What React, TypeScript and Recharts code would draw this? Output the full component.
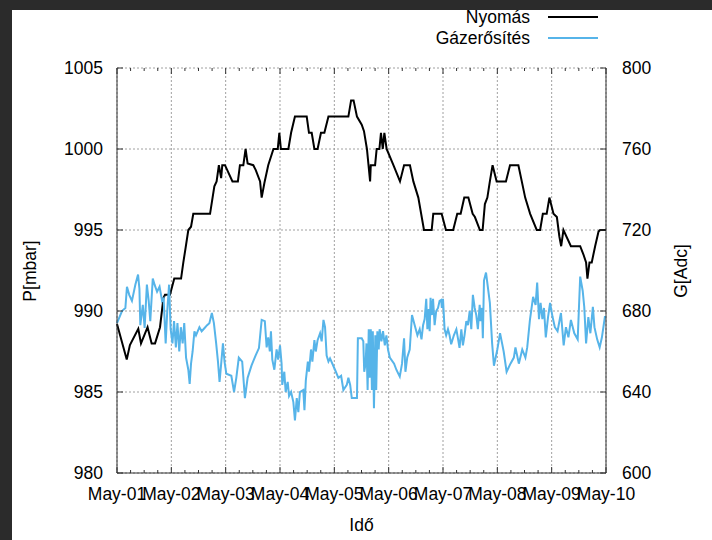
import { CartesianGrid, Label, Legend, Line, LineChart, XAxis, YAxis } from "recharts";

// hours since May-01 00:00
const pressureHours = [
  0, 4.3, 5.7, 9.4, 10.6, 13.5, 15.3, 16.8, 19, 20.5, 21.2, 23.4, 25.3, 28.3, 29.3, 30.3, 31.5, 32.7, 33.7,
  41.1, 43, 44, 45, 46, 46.5, 47.7, 51, 53.4, 54.3, 55.8, 56.8, 57.7, 60.2, 61.3, 63.2, 63.9, 65.1, 66.8,
  69.1, 71, 71.7, 72.4, 75.7, 76.9, 78.6, 83.8, 84.8, 86, 87.2, 88.6, 90.1, 91.6, 93.4, 102.2, 103.4, 104.5,
  106, 108.1, 109.1, 110.4, 111.1, 111.8, 112.1, 114, 114.7, 115.9, 116.6, 117.4, 118.1, 119.1, 122.1, 125,
  126.8, 129.4, 130.9, 133.1, 135.6, 139, 139.7, 143.4, 145.3, 148.5, 150.3, 151.8, 153.4, 155.2, 157.1,
  158.1, 160.3, 161.5, 162.5, 163.6, 164.7, 165.9, 167.7, 171.8, 173.6, 177.3, 178.8, 180.3, 182.5, 185.4,
  186.9, 188.1, 189.8, 191, 192.8, 194.3, 195.4, 196.2, 197.2, 200.5, 204.6, 206, 207.2, 207.8, 208.7,
  209.7, 211.2, 212.7, 213.4, 216,
];
const pressureMbar = [
  989.2, 987, 987.9, 988.9, 988, 989, 988, 988, 989, 990.8, 991, 991, 992, 992, 993, 993.9, 995, 995.2, 996,
  996, 997.7, 998, 999, 998.2, 999, 999, 998, 998, 999, 999, 1000, 999.1, 999, 998.7, 998, 997, 997.9, 999,
  1000, 1000, 1001, 1000, 1000, 1001, 1002, 1002, 1001, 1001, 1000, 1000, 1001, 1001, 1002, 1002, 1003, 1003,
  1002, 1001.5, 1001.1, 1000, 999, 998, 999, 999, 1000, 1000, 1001, 1000, 1001, 1000, 999, 998,
  999, 999, 998, 997, 995, 995, 996, 996, 995, 995, 996, 996, 997, 997, 996,
  995.8, 995, 995, 996.6, 997, 998, 999, 998, 998, 999, 999, 998, 997, 996, 995,
  995, 996, 996, 997, 996, 995.8, 994.6, 994, 995, 994, 994, 993.5, 993, 992, 993,
  993, 994, 994.9, 995, 995,
];

const gainHours = [
  0, 2.2, 3.7, 4.4, 5.4, 6.6, 8.1, 9.3, 9.9, 10.3, 11.4, 12.2, 13.2, 14, 14.7, 15.8, 16.6, 17.7, 18.8, 19.9,
  20.6, 21.5, 22.2, 23, 23.7, 24.5, 25.2, 26, 26.7, 27.5, 28.2, 29, 29.7, 30.5, 31.5, 32.1, 32.7, 33.4, 34.2,
  34.9, 36.4, 37.4, 38.6, 39.8, 40.8, 41.9, 42.8, 43.8, 44.6, 45.3, 46.1, 46.8, 47.5, 48.3, 50.5, 51.7, 52.7,
  53.8, 55.3, 56.5, 57.7, 59.4, 61.2, 62.7, 63.9, 65.3, 66.1, 66.8, 67.5, 68, 68.6, 69.5, 70.5, 71.2, 72,
  72.7, 73, 73.9, 74.5, 75.4, 76, 76.9, 77.9, 78.6, 79.4, 80.1, 80.8, 82.3, 82.8, 83.4, 84.3, 84.8, 85.7,
  86.3, 87.2, 87.8, 88.6, 89.7, 90.4, 91.2, 91.9, 92.6, 93.4, 94.1, 96.3, 97.8, 99, 100, 101.5, 102.2, 103,
  103.7, 104.9, 106, 106.4, 108.1, 108.8, 109.2, 109.8, 110.2, 110.7, 111.2, 111.6, 112.1, 112.6, 113,
  113.5, 114.1, 114.5, 115, 115.6, 116, 116.8, 117.5, 118.3, 119, 119.7, 120.5, 122.4, 123.4, 124.9,
  125.9, 126.8, 127.4, 128.2, 129.3, 130.3, 131.5, 132.7, 133.7, 134.5, 135.2, 135.9, 136.6, 137.1,
  137.7, 138.1, 138.5, 139.1, 139.6, 140.3, 141, 141.8, 142.5, 143.2, 143.5, 144, 144.7, 145.4, 146.2,
  146.9, 147.6, 148.8, 149.9, 150.6, 151.3, 152.1, 152.8, 153.5, 154.3, 155, 155.8, 156.5, 157.2, 158,
  158.7, 159.4, 160.2, 160.6, 161.2, 161.6, 162.1, 163, 164.7, 165.7, 166.5, 168, 169.2, 170.1, 170.8,
  172.1, 173.8, 175.3, 176, 177.5, 179, 180.4, 181.2, 182.4, 183.8, 184.9, 185.6, 186.4, 187.1, 187.9,
  188.6, 189.4, 190.4, 191.3, 192.4, 193.4, 194.6, 196.1, 197.3, 198.3, 199.4, 200.5, 202, 203.5, 204.6,
  205.7, 206.4, 207.2, 208.2, 209.1, 210.2, 210.9, 212.1, 213.2, 214.2, 215.5, 216,
];
const gainAdc = [
  674, 680, 681.5, 692, 688, 685, 693, 698, 691, 673, 683, 671.6, 693, 685, 675, 696, 693, 689.5, 692, 685,
  686, 664, 680, 693, 671, 664, 675, 662, 674, 660, 672, 664, 674, 657, 651, 644, 654, 660, 670,
  668, 672, 670, 671.5, 673, 674, 679, 674, 664, 655, 645, 655, 664, 655, 649, 648, 640, 647,
  657, 655, 637, 647, 653, 658, 661.7, 675.6, 675, 662, 667, 660, 670, 656, 651, 661, 656, 663,
  654, 643.5, 650, 640, 645, 638, 640, 635, 626, 637, 630, 640, 641, 631, 645.6, 655, 650, 661,
  655, 665.6, 660, 665.6, 669, 665, 675.6, 672, 658, 655, 656.6, 651, 647, 648, 641, 643.5, 647, 643.5,
  637, 637, 637, 666.5, 666.5, 665, 650, 654, 664, 641, 671, 647, 671, 641, 670,
  632, 668, 641, 670, 661, 671, 665, 670, 663, 668, 661, 657, 654, 651, 647.6,
  654, 666.5, 650, 657, 661, 678, 673, 668, 671, 666, 673, 676, 686, 671,
  681, 670, 686.5, 678, 686, 673, 680, 681.5, 685, 685.5, 681.5, 686, 671, 668, 671,
  668, 663.6, 668, 671, 666.5, 661.8, 671, 663, 668, 675, 673, 680, 671, 688, 681.5,
  678, 671, 683, 675, 681.5, 666.5, 695, 699, 684, 664, 653, 661, 669, 664, 660,
  650, 654, 657, 662, 654, 661, 657, 662, 675.6, 687, 683, 694, 676, 684, 676,
  681.5, 667, 677, 684, 677, 672, 670, 679, 663, 672, 667, 675.6, 669, 666, 697,
  690, 682, 664, 677, 669, 682, 672, 666, 662, 667, 677, 677,
];

const seriesNames = ["Nyomás", "Gázerősítés"];
const dayTicks = [0, 24, 48, 72, 96, 120, 144, 168, 192, 216];
const dayLabels = ["May-01", "May-02", "May-03", "May-04", "May-05", "May-06", "May-07", "May-08", "May-09", "May-10"];
const pressureTicks = [980, 985, 990, 995, 1000, 1005];
const gainTicks = [600, 640, 680, 720, 760, 800];

const pressureData = pressureHours.map((t, i) => ({ t, p: pressureMbar[i] }));
const gainData = gainHours.map((t, i) => ({ t, g: gainAdc[i] }));
// every 6 hours; majors get a label
const sixHourTicks = Array.from({ length: 37 }, (_, i) => i * 6);

const W = 700;
const H = 530;
const PL = 105;
const PR = 594;
const PT = 58;
const PB = 463;
const FONT = "'Liberation Sans', Arial, sans-serif";
const FS = 17.5;

function BottomTick(props: any) {
  const { x, payload } = props;
  const v = payload.value as number;
  const major = v % 24 === 0;
  const len = major ? 6 : 3;
  return (
    <g>
      <line x1={x} x2={x} y1={PB} y2={PB - len} stroke="#333" />
      <line x1={x} x2={x} y1={PT} y2={PT + len} stroke="#333" />
      {major && (
        <text x={x} y={484} textAnchor="middle" dominantBaseline="central" fontSize={FS} fontFamily={FONT} fill="#000">
          {dayLabels[v / 24]}
        </text>
      )}
    </g>
  );
}

function LeftTick(props: any) {
  const { y, payload } = props;
  return (
    <g>
      <line x1={PL} x2={PL + 6} y1={y} y2={y} stroke="#333" />
      <text x={91} y={y} textAnchor="end" dominantBaseline="central" fontSize={FS} fontFamily={FONT} fill="#000">
        {payload.value}
      </text>
    </g>
  );
}

function RightTick(props: any) {
  const { y, payload } = props;
  return (
    <g>
      <line x1={PR - 6} x2={PR} y1={y} y2={y} stroke="#333" />
      <text x={610} y={y} textAnchor="start" dominantBaseline="central" fontSize={FS} fontFamily={FONT} fill="#000">
        {payload.value}
      </text>
    </g>
  );
}

function KeyBox(props: any) {
  const items = [...(props.payload || [])].sort(
    (a: any, b: any) => seriesNames.indexOf(a.value) - seriesNames.indexOf(b.value)
  );
  return (
    <div style={{ position: "relative", width: W, height: 0, fontFamily: FONT, fontSize: FS }}>
      {items.map((it: any, i: number) => (
        <div key={i} style={{ position: "absolute", top: -4 + i * 21, left: 0, width: W, height: 22 }}>
          <span style={{ position: "absolute", right: W - 518, top: 0, lineHeight: "22px", color: "#000", whiteSpace: "nowrap" }}>
            {it.value}
          </span>
          <span style={{ position: "absolute", left: 536, top: 10, width: 50, height: 2, background: it.color }} />
        </div>
      ))}
    </div>
  );
}

// vertical grid only at day boundaries
const dayGrid = (props: any) => {
  const ax = props.xAxis;
  return dayTicks.map((t) =>
    ax && typeof ax.scale === "function" ? ax.scale(t) : props.offset.left + (t / 216) * props.offset.width
  );
};

export default function App() {
  return (
    <div style={{ position: "absolute", left: 0, top: 0, width: 712, height: 540, background: "#2b2b2b" }}>
      <div style={{ position: "absolute", left: 12, top: 10, width: W, height: H, background: "#fff" }}>
        <LineChart width={W} height={H} margin={{ top: PT, right: W - PR - 60, bottom: H - PB - 60, left: PL - 60 }}>
          <CartesianGrid
            xAxisId="bottom"
            yAxisId="p"
            stroke="#a0a0a0"
            strokeDasharray="2 2"
            verticalCoordinatesGenerator={dayGrid}
          />
          <XAxis
            xAxisId="top"
            orientation="top"
            type="number"
            dataKey="t"
            domain={[0, 216]}
            ticks={dayTicks}
            interval={0}
            height={0}
            tick={() => <g />}
            tickLine={false}
            axisLine={{ stroke: "#333" }}
          />
          <XAxis
            xAxisId="bottom"
            type="number"
            dataKey="t"
            domain={[0, 216]}
            ticks={sixHourTicks}
            interval={0}
            height={60}
            tick={<BottomTick />}
            tickLine={false}
            axisLine={{ stroke: "#333" }}
          >
            <Label
              content={() => (
                <text x={(PL + PR) / 2} y={515} textAnchor="middle" dominantBaseline="central" fontSize={FS} fontFamily={FONT} fill="#000">
                  Idő
                </text>
              )}
            />
          </XAxis>
          <YAxis
            yAxisId="p"
            domain={[980, 1005]}
            ticks={pressureTicks}
            interval={0}
            width={60}
            tick={<LeftTick />}
            tickLine={false}
            axisLine={{ stroke: "#333" }}
          >
            <Label
              content={() => (
                <text
                  x={18}
                  y={261}
                  transform="rotate(-90 18 261)"
                  textAnchor="middle"
                  dominantBaseline="central"
                  fontSize={FS}
                  fontFamily={FONT}
                  fill="#000"
                >
                  P[mbar]
                </text>
              )}
            />
          </YAxis>
          <YAxis
            yAxisId="g"
            orientation="right"
            domain={[600, 800]}
            ticks={gainTicks}
            interval={0}
            width={60}
            tick={<RightTick />}
            tickLine={false}
            axisLine={{ stroke: "#333" }}
          >
            <Label
              content={() => (
                <text
                  x={669}
                  y={261}
                  transform="rotate(-90 669 261)"
                  textAnchor="middle"
                  dominantBaseline="central"
                  fontSize={FS}
                  fontFamily={FONT}
                  fill="#000"
                >
                  G[Adc]
                </text>
              )}
            />
          </YAxis>
          <Legend verticalAlign="top" content={<KeyBox />} wrapperStyle={{ top: 0, left: 0, width: W, height: 0, overflow: "visible" }} />
          <Line
            name="Nyomás"
            data={pressureData}
            dataKey="p"
            xAxisId="bottom"
            yAxisId="p"
            type="linear"
            stroke="#000"
            strokeWidth={2}
            dot={false}
            isAnimationActive={false}
          />
          <Line
            name="Gázerősítés"
            data={gainData}
            dataKey="g"
            xAxisId="bottom"
            yAxisId="g"
            type="linear"
            stroke="#56b4e9"
            strokeWidth={2}
            dot={false}
            isAnimationActive={false}
          />
        </LineChart>
      </div>
    </div>
  );
}
